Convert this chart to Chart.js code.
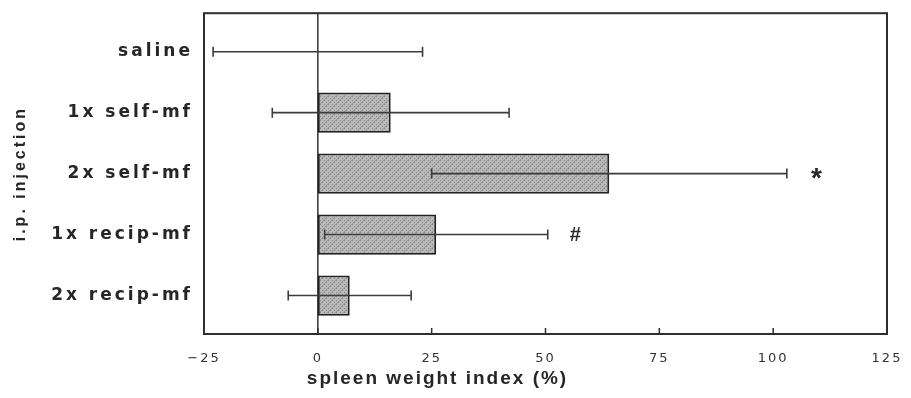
<!DOCTYPE html>
<html>
<head>
<meta charset="utf-8">
<script src="https://cdn.jsdelivr.net/npm/chart.js@4.4.1/dist/chart.umd.min.js"></script>
<style>
html,body{margin:0;padding:0;background:#fff;}
</style>
</head>
<body>
<canvas id="Charts" width="911" height="398"></canvas>
<script>
// data
var groups = ['saline', '1x self-mf', '2x self-mf', '1x recip-mf', '2x recip-mf'];
var means = [0, 16, 64, 26, 7];
var errs = [23, 26, 39, 24.5, 13.5];
var marks = ['', '', '*', '#', ''];
var markAt = [null, null, 109.5, 56.5, null];
var xticks = [-25, 0, 25, 50, 75, 100, 125];

// letter spacing per scale (the old figure uses a wide typeface), x title sits left of the axis centre
var spacing = { x: { ticks: '2px', title: '2px', shift: -108 }, y: { ticks: '3px', title: '3px', shift: 0 } };

// gray dotted fill like the scanned bars
function hatch(){
    var c = document.createElement('canvas');
    c.width = 8; c.height = 8;
    var g = c.getContext('2d');
    g.fillStyle = '#bababa';
    g.fillRect(0, 0, 8, 8);
    for (var x = 0; x < 8; x++) {
        for (var y = 0; y < 8; y++) {
            if ((x + y) % 8 == 7) { g.fillStyle = '#989898'; g.fillRect(x, y, 1, 1); }
            else if (x % 2 == 0 && y % 2 == 0 && (x + y) % 4 == 0) { g.fillStyle = '#838383'; g.fillRect(x, y, 1, 1); }
        }
    }
    return document.getElementById('Charts').getContext('2d').createPattern(c, 'repeat');
}

var deco = {
    id: 'deco',
    afterLayout: function(chart){
        Object.keys(spacing).forEach(function(id){
            var s = chart.scales[id];
            if (!s || s._spaced) return;
            var dl = s.drawLabels, dt = s.drawTitle;
            s.drawLabels = function(){ this.ctx.letterSpacing = spacing[id].ticks; dl.apply(this, arguments); this.ctx.letterSpacing = '0px'; };
            s.drawTitle = function(){
                this.ctx.save();
                this.ctx.translate(spacing[id].shift, 0);
                this.ctx.letterSpacing = spacing[id].title;
                dt.apply(this, arguments);
                this.ctx.restore();
            };
            s._spaced = true;
        });
    },
    beforeDatasetsDraw: function(chart){
        var ctx = chart.ctx, a = chart.chartArea, xs = chart.scales.x;
        ctx.save();
        ctx.strokeStyle = '#333';
        ctx.lineWidth = 1.5;
        ctx.beginPath();
        ctx.moveTo(xs.getPixelForValue(0), a.top - 8);
        ctx.lineTo(xs.getPixelForValue(0), a.bottom + 8);
        ctx.stroke();
        ctx.restore();
    },
    afterDatasetsDraw: function(chart){
        var ctx = chart.ctx, a = chart.chartArea, xs = chart.scales.x, ys = chart.scales.y;
        ctx.save();
        // error bars
        ctx.strokeStyle = '#3c3c3c';
        ctx.lineWidth = 1.6;
        for (var i = 0; i < groups.length; i++) {
            var yy = ys.getPixelForValue(i);
            var x1 = xs.getPixelForValue(means[i] - errs[i]);
            var x2 = xs.getPixelForValue(means[i] + errs[i]);
            ctx.beginPath();
            ctx.moveTo(x1, yy); ctx.lineTo(x2, yy);
            ctx.moveTo(x1, yy - 5); ctx.lineTo(x1, yy + 5);
            ctx.moveTo(x2, yy - 5); ctx.lineTo(x2, yy + 5);
            ctx.stroke();
        }
        // significance marks
        ctx.letterSpacing = '0px';
        ctx.fillStyle = '#2a2a2a';
        ctx.textAlign = 'center';
        for (var j = 0; j < marks.length; j++) {
            if (!marks[j]) continue;
            var px = xs.getPixelForValue(markAt[j]), py = ys.getPixelForValue(j);
            if (marks[j] == '*') {
                ctx.font = 'bold 28px "Liberation Sans"';
                ctx.textBaseline = 'alphabetic';
                ctx.fillText(marks[j], px, py + 13);
            } else {
                ctx.font = 'italic bold 20px "Liberation Sans"';
                ctx.textBaseline = 'middle';
                ctx.fillText(marks[j], px, py + 1);
            }
        }
        // frame and inner ticks
        ctx.strokeStyle = '#2e2e2e';
        ctx.lineWidth = 2;
        ctx.strokeRect(a.left, a.top - 8, a.right - a.left, a.bottom - a.top + 16);
        ctx.lineWidth = 1.5;
        ctx.beginPath();
        xticks.forEach(function(v){
            var tx = xs.getPixelForValue(v);
            ctx.moveTo(tx, a.bottom + 8);
            ctx.lineTo(tx, a.bottom + 2);
        });
        ctx.stroke();
        ctx.restore();
    }
};

var ctx = document.getElementById('Charts').getContext('2d');
var myChart = new Chart(ctx, {
    type: 'bar',
    data: {
        labels: groups,
        datasets: [{
            data: means,
            backgroundColor: hatch(),
            borderColor: '#222',
            borderWidth: 2,
            borderSkipped: false,
            barPercentage: 0.66,
            categoryPercentage: 1
        }]
    },
    options: {
        indexAxis: 'y',
        responsive: false,
        animation: false,
        layout: { padding: { top: 18, right: 24, left: 0, bottom: 0 } },
        plugins: { legend: { display: false }, tooltip: { enabled: false } },
        scales: {
            x: {
                type: 'linear',
                min: -25,
                max: 125,
                afterBuildTicks: function(s){ s.ticks = xticks.map(function(v){ return { value: v }; }); },
                grid: { display: false, drawTicks: false },
                border: { display: false },
                ticks: {
                    padding: 25,
                    autoSkip: false,
                    maxRotation: 0,
                    color: '#333',
                    font: { family: 'DejaVu Sans', size: 13 },
                    callback: function(v){ return String(v).replace('-', '\u2212'); }
                },
                title: {
                    display: true,
                    text: 'spleen weight index (%)',
                    color: '#262626',
                    font: { family: 'Liberation Sans', size: 19, weight: 'bold' },
                    padding: { top: 0, bottom: 8 }
                },
                afterFit: function(s){ s.height = 72; s.paddingLeft = 0; s.paddingRight = 0; }
            },
            y: {
                type: 'category',
                offset: true,
                grid: { display: false, drawTicks: false },
                border: { display: false },
                ticks: {
                    padding: 11,
                    color: '#262626',
                    font: { family: 'DejaVu Sans', size: 17, weight: 'bold' }
                },
                title: {
                    display: true,
                    text: 'i.p. injection',
                    color: '#262626',
                    font: { family: 'Liberation Sans', size: 16, weight: 'bold' },
                    padding: { top: 11, bottom: 0 }
                },
                afterFit: function(s){ s.width = 204; }
            }
        }
    },
    plugins: [deco]
});
</script>
</body>
</html>
